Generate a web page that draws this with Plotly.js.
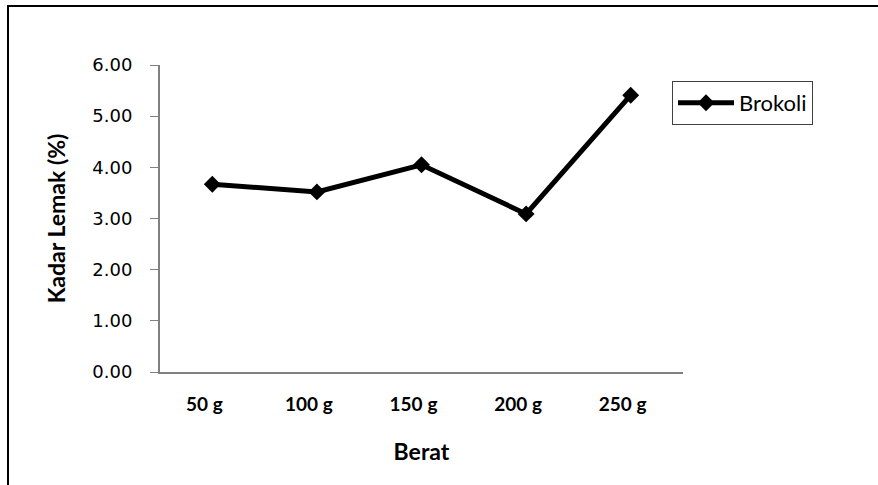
<!DOCTYPE html>
<html>
<head>
<meta charset="utf-8">
<script src="https://cdn.plot.ly/plotly-3.0.1.min.js"></script>
<style>
  html, body { margin: 0; padding: 0; background: #fff; }
  #chart { position: absolute; left: 0; top: 0; width: 878px; height: 485px; }
  #frame { position: absolute; left: 7px; top: 5px; width: 900px; height: 600px;
           border-left: 2px solid #000; border-top: 2px solid #000; pointer-events: none; }
</style>
</head>
<body>
<div id="chart"></div>
<div id="frame"></div>
<script>
const categories = ["50\u202Fg", "100\u202Fg", "150\u202Fg", "200\u202Fg", "250\u202Fg"];
const brokoli = [3.67, 3.52, 4.05, 3.09, 5.41];
const yTicks = [0, 1, 2, 3, 4, 5, 6];
const seriesName = "Brokoli";

const trace = {
  x: categories,
  y: brokoli,
  name: seriesName,
  type: "scatter",
  mode: "lines+markers",
  line: { color: "#000", width: 5 },
  marker: { symbol: "diamond", size: 13, color: "#000" },
  showlegend: true
};

const layout = {
  width: 878,
  height: 485,
  margin: { l: 160, r: 195, t: 65, b: 113 },
  paper_bgcolor: "rgba(0,0,0,0)",
  plot_bgcolor: "rgba(0,0,0,0)",
  showlegend: true,
  xaxis: {
    type: "category",
    range: [-0.5, 4.5],
    showline: true,
    linecolor: "#808080",
    linewidth: 2,
    ticks: "",
    showgrid: false,
    zeroline: false,
    tickfont: { family: "Lato", size: 19, color: "#000", weight: "bold" },
    ticklabelstandoff: 14,
    ticklabelshift: -8,
    title: { text: "<b>Berat</b>", font: { family: "Lato", size: 23, color: "#000" }, standoff: 30 },
    fixedrange: true
  },
  yaxis: {
    range: [0, 6],
    tickvals: yTicks,
    tickformat: ".2f",
    showline: true,
    linecolor: "#808080",
    linewidth: 2,
    ticks: "outside",
    ticklen: 8,
    tickwidth: 1,
    tickcolor: "#808080",
    showgrid: false,
    zeroline: false,
    tickfont: { family: "DejaVu Sans", size: 18, color: "#000" },
    ticklabelstandoff: 14,
    title: { text: "<b>Kadar Lemak (%)</b>", font: { family: "Lato", size: 23, color: "#000" }, standoff: 20 },
    fixedrange: true
  },
  legend: {
    x: 0.979, y: 0.948, xanchor: "left", yanchor: "top",
    bordercolor: "#404040", borderwidth: 1,
    bgcolor: "#fff",
    font: { family: "Lato", size: 22, color: "#000" },
    itemwidth: 56,
    tracegroupgap: 0
  }
};

Plotly.newPlot("chart", [trace], layout, { displayModeBar: false, staticPlot: true });
</script>
</body>
</html>
